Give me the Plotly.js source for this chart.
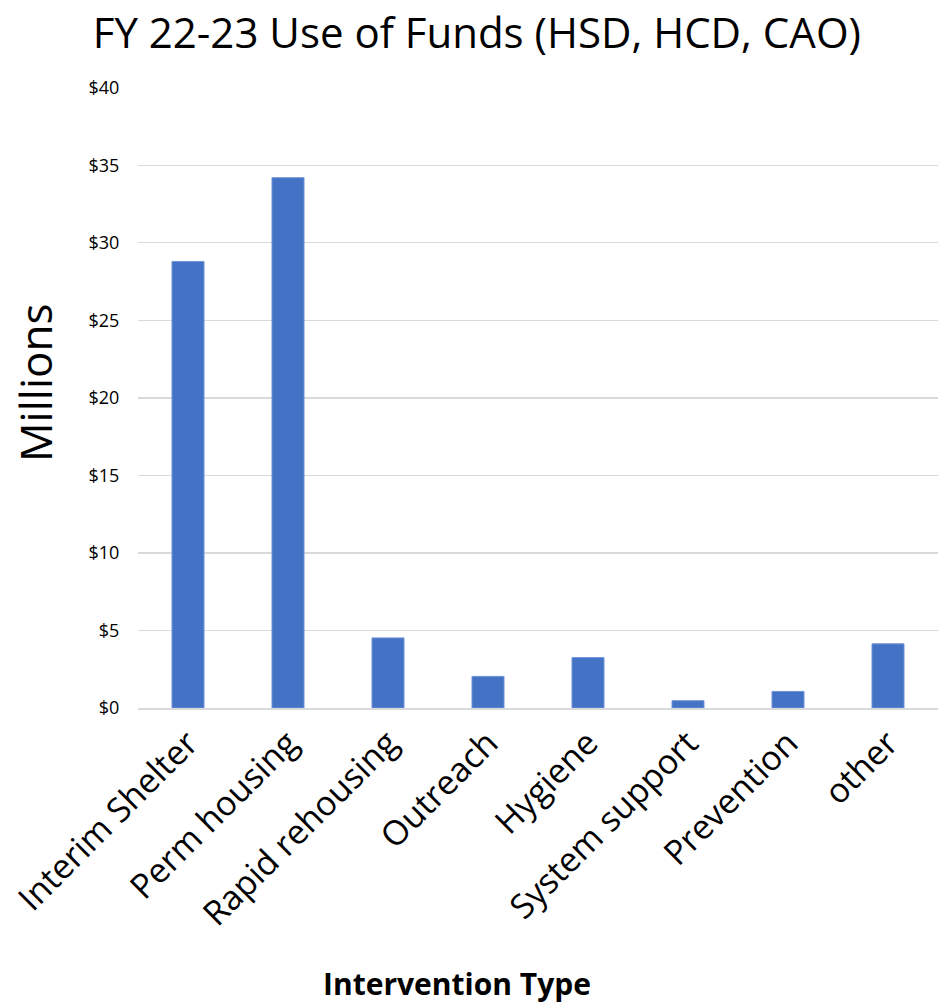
<!DOCTYPE html>
<html>
<head>
<meta charset="utf-8">
<script src="https://cdn.plot.ly/plotly-3.0.1.min.js"></script>
<style>html,body{margin:0;padding:0;background:#fff;}#chart{width:948px;height:1006px;}</style>
</head>
<body>
<div id="chart"></div>
<script>
const categories = ["Interim Shelter", "Perm housing", "Rapid rehousing", "Outreach", "Hygiene", "System support", "Prevention", "other"];
const valuesMillions = [28.8, 34.2, 4.52, 2.04, 3.25, 0.47, 1.07, 4.14];
const yTickValues = [0, 5, 10, 15, 20, 25, 30, 35, 40];
const yTickLabels = yTickValues.map(v => "$" + v);
const chartTitle = "FY 22-23 Use of Funds (HSD, HCD, CAO)";
const yTitle = "Millions";
const xTitle = "Intervention Type";

const font = "Open Sans, Noto Sans, Liberation Sans, sans-serif";

Plotly.newPlot("chart", [{
  type: "bar",
  x: categories,
  y: valuesMillions,
  marker: {color: "#4472C4", line: {color: "#6f94d6", width: 1}},
  hoverinfo: "x+y"
}], {
  width: 948,
  height: 1006,
  margin: {l: 138, r: 10, t: 87, b: 298},
  paper_bgcolor: "#fff",
  plot_bgcolor: "#fff",
  bargap: 0.68,
  showlegend: false,
  title: {
    text: chartTitle,
    font: {family: font, size: 42, color: "#000"},
    x: 0.503, xanchor: "center", y: 0.967, yanchor: "middle"
  },
  xaxis: {
    type: "category",
    tickangle: -45,
    tickfont: {family: font, size: 34, color: "#000"},
    showgrid: false,
    showline: true,
    linecolor: "#d9d9d9",
    linewidth: 1.5,
    ticks: "",
    automargin: false
  },
  yaxis: {
    range: [0, 40.05],
    tickmode: "array",
    tickvals: yTickValues,
    ticktext: yTickLabels,
    tickfont: {family: font, size: 18, color: "#000"},
    showgrid: true,
    gridcolor: "#d9d9d9",
    gridwidth: 1.3,
    zeroline: false,
    showline: false,
    ticks: "outside",
    ticklen: 14,
    tickcolor: "rgba(0,0,0,0)",
    automargin: false
  },
  annotations: [
    {text: "<b>" + xTitle + "</b>", xref: "paper", yref: "paper", x: 0.399, y: -0.443,
     xanchor: "center", yanchor: "middle", showarrow: false,
     font: {family: font, size: 30, color: "#000"}},
    {text: yTitle, xref: "paper", yref: "paper", x: -0.129, y: 0.523, textangle: -90,
     xanchor: "center", yanchor: "middle", showarrow: false,
     font: {family: font, size: 44, color: "#000"}}
  ]
}, {staticPlot: true});
</script>
</body>
</html>
